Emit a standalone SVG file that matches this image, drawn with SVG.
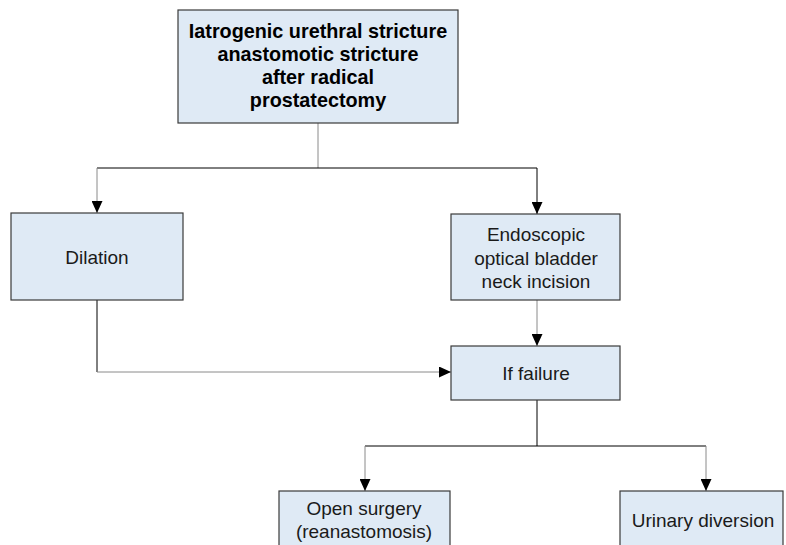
<svg xmlns="http://www.w3.org/2000/svg" width="786" height="545" viewBox="0 0 786 545">
  <style>
    .box { fill: #dfeaf5; stroke: #3a3a3a; stroke-width: 1.2; }
    .t { font-family: "Liberation Sans", Arial, Helvetica, sans-serif; font-size: 19px; fill: #1a1a1a; text-anchor: middle; }
    .b { font-weight: bold; font-size: 19.8px; fill: #000; }
    .k { fill: none; stroke: #000; stroke-width: 1; }
    .g { fill: none; stroke: #8a8a8a; stroke-width: 1; }
  </style>
  <defs>
    <marker id="arrow" viewBox="0 0 12 11" refX="12" refY="5.5" markerWidth="12" markerHeight="11" markerUnits="userSpaceOnUse" orient="auto">
      <path d="M0,0 L12,5.5 L0,11 Z" fill="#000"/>
    </marker>
  </defs>
  <rect width="786" height="545" fill="#fff"/>

  <g id="connectors">
    <!-- root to first split -->
    <path class="g" d="M318,123 V168"/>
    <path class="k" d="M97,168 H537"/>
    <path class="g" d="M97,168 V213" marker-end="url(#arrow)"/>
    <path class="k" d="M537,168 V214" marker-end="url(#arrow)"/>
    <!-- to failure node -->
    <path class="g" d="M537,300 V346" marker-end="url(#arrow)"/>
    <path class="k" d="M97,300 V372"/>
    <path class="g" d="M97,372 H451" marker-end="url(#arrow)"/>
    <!-- failure to final options -->
    <path class="k" d="M537,400 V446"/>
    <path class="k" d="M365,446 H706"/>
    <path class="g" d="M365,446 V491" marker-end="url(#arrow)"/>
    <path class="g" d="M706,446 V491" marker-end="url(#arrow)"/>
  </g>

  <g id="root">
    <rect class="box" x="178" y="10" width="280" height="113"/>
    <text class="t b" x="318" y="38">Iatrogenic urethral stricture</text>
    <text class="t b" x="318" y="61">anastomotic stricture</text>
    <text class="t b" x="318" y="84">after radical</text>
    <text class="t b" x="318" y="107">prostatectomy</text>
  </g>

  <g id="dilation">
    <rect class="box" x="11" y="213" width="172" height="87"/>
    <text class="t" x="97" y="264">Dilation</text>
  </g>

  <g id="endoscopic">
    <rect class="box" x="451" y="214" width="169" height="86"/>
    <text class="t" x="536" y="241">Endoscopic</text>
    <text class="t" x="536" y="265">optical bladder</text>
    <text class="t" x="536" y="288">neck incision</text>
  </g>

  <g id="failure">
    <rect class="box" x="451" y="346" width="169" height="54"/>
    <text class="t" x="536" y="380">If failure</text>
  </g>

  <g id="open-surgery">
    <rect class="box" x="279" y="491" width="171" height="70"/>
    <text class="t" x="364" y="515">Open surgery</text>
    <text class="t" x="364" y="538">(reanastomosis)</text>
  </g>

  <g id="urinary-diversion">
    <rect class="box" x="620" y="491" width="163" height="70"/>
    <text class="t" x="703" y="527">Urinary diversion</text>
  </g>
</svg>
